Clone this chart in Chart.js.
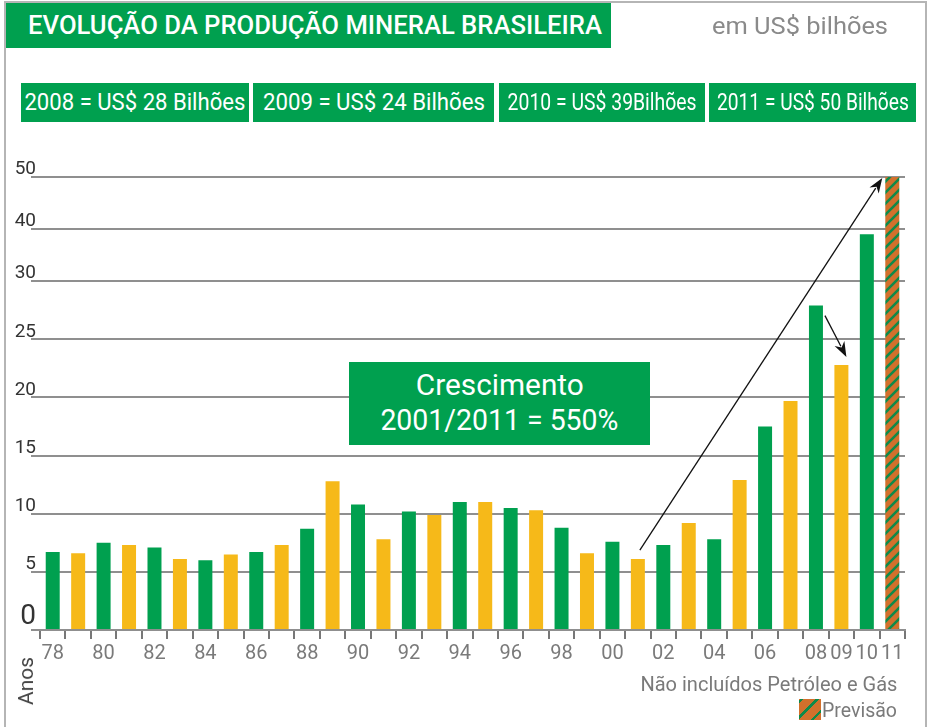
<!DOCTYPE html>
<html lang="pt">
<head>
<meta charset="UTF-8">
<title>Evolução da Produção Mineral Brasileira</title>
<script src="https://cdn.jsdelivr.net/npm/chart.js"></script>
<style>
    body { margin: 0; background: #ffffff; font-family: Roboto, Arial, sans-serif; }
    #page { position: relative; width: 928px; height: 727px; overflow: hidden; }
    .frame { position: absolute; left: 4px; top: 1px; width: 919px; height: 760px; border: 2px solid #b5b5b5; border-bottom: none; }
    #chartBox { position: absolute; left: 0; top: 0; width: 928px; height: 727px; }
    .green { position: absolute; background: #00a04f; color: #ffffff; white-space: nowrap; overflow: visible; }
    .fit { display: inline-block; white-space: nowrap; }
    .title { left: 6px; top: 3px; width: 605px; height: 45px; line-height: 45px; font-size: 25px; font-weight: 500; }
    .title .fit { position: absolute; left: 22px; transform-origin: left center; }
    .unit { position: absolute; left: 712px; top: 12px; font-size: 24px; color: #8a8a8a; }
    .unit .fit { transform-origin: left center; }
    .box { top: 83px; height: 39px; font-size: 23px; display: flex; justify-content: center; align-items: center; }
    .box .fit { transform-origin: center center; flex: none; }
    .callout { left: 349px; top: 362px; width: 301px; height: 83px; font-size: 29px; line-height: 35px;
        display: flex; flex-direction: column; justify-content: center; align-items: center; padding-bottom: 2px; box-sizing: border-box; }
    .callout .fit { transform-origin: center center; flex: none; }
    .anos { position: absolute; left: 26px; top: 681px; font-size: 21px; color: #444; transform: translate(-50%, -50%) rotate(-90deg); }
    .note { position: absolute; right: 31px; top: 672px; font-size: 21px; color: #7a7a7a; }
    .note .fit { transform-origin: right center; }
    .legend { position: absolute; left: 799px; top: 699px; height: 22px; font-size: 21px; color: #7a7a7a; line-height: 22px; white-space: nowrap; }
    .swatch { display: inline-block; width: 22px; height: 21px; vertical-align: top;
        background: repeating-linear-gradient(-45deg, #d2702c 0 5px, #0f8a4a 5px 7.5px, #d2702c 7.5px 11px); }
    .legend .fit { transform-origin: left center; margin-left: 1px; }
</style>
</head>
<body>
<div id="page">
    <div class="frame"></div>
    <div id="chartBox"><canvas id="mineralChart"></canvas></div>

    <div class="green title"><span class="fit" data-w="574">EVOLUÇÃO DA PRODUÇÃO MINERAL BRASILEIRA</span></div>
    <div class="unit"><span class="fit" data-w="176">em US$ bilhões</span></div>

    <div class="green box" style="left:21px;width:228px"><span class="fit" data-w="221">2008 = US$ 28 Bilhões</span></div>
    <div class="green box" style="left:253px;width:241px"><span class="fit" data-w="222">2009 = US$ 24 Bilhões</span></div>
    <div class="green box" style="left:499px;width:206px"><span class="fit" data-w="189">2010 = US$ 39Bilhões</span></div>
    <div class="green box" style="left:709px;width:207px"><span class="fit" data-w="192">2011 = US$ 50 Bilhões</span></div>

    <div class="green callout">
        <span class="fit" data-w="168">Crescimento</span>
        <span class="fit" data-w="238">2001/2011 = 550%</span>
    </div>

    <div class="anos">Anos</div>
    <div class="note"><span class="fit" data-w="257">Não incluídos Petróleo e Gás</span></div>
    <div class="legend"><span class="swatch"></span><span class="fit" data-w="75">Previsão</span></div>
</div>

<script>
    // Anos (categorias)
    const years = ['78', '79', '80', '81', '82', '83', '84', '85', '86', '87', '88', '89',
                   '90', '91', '92', '93', '94', '95', '96', '97', '98', '99',
                   '00', '01', '02', '03', '04', '05', '06', '07', '08', '09', '10', '11'];
    // Rótulos visíveis no eixo X
    const shownYears = ['78', '80', '82', '84', '86', '88', '90', '92', '94', '96', '98',
                        '00', '02', '04', '06', '08', '09', '10', '11'];
    // Produção mineral em US$ bilhões
    const values = [6.7, 6.6, 7.5, 7.3, 7.1, 6.1, 6.0, 6.5, 6.7, 7.3, 8.7, 12.8,
                    10.8, 7.8, 10.2, 9.9, 11.0, 11.0, 10.5, 10.3, 8.8, 6.6,
                    7.6, 6.1, 7.3, 9.2, 7.8, 12.9, 17.5, 19.7, 27.9, 22.8, 39, 50];
    // Marcas do eixo Y (escala comprimida acima de 30)
    const yTicks = [0, 5, 10, 15, 20, 25, 30, 40, 50];
    const forecastYear = '11';

    // o eixo original é linear até 30 e comprimido depois
    function toAxis(v) {
        return v <= 30 ? v : 30 + (v - 30) * 0.448;
    }

    // ajusta a largura dos textos HTML
    document.querySelectorAll('.fit').forEach(el => {
        const w = el.getBoundingClientRect().width;
        const target = +el.dataset.w;
        if (w > 0 && target) el.style.transform = 'scaleX(' + (target / w) + ')';
    });

    function makeHatch() {
        const c = document.createElement('canvas');
        c.width = 11; c.height = 11;
        const g = c.getContext('2d');
        g.fillStyle = '#d2702c';
        g.fillRect(0, 0, 11, 11);
        g.strokeStyle = '#0f8a4a';
        g.lineWidth = 2.6;
        g.beginPath();
        g.moveTo(-2, 13); g.lineTo(13, -2);
        g.moveTo(-2, 2); g.lineTo(2, -2);
        g.moveTo(9, 13); g.lineTo(13, 9);
        g.stroke();
        return g.createPattern(c, 'repeat');
    }
    const hatch = makeHatch();

    // flechas do gráfico
    const arrowPlugin = {
        id: 'arrows',
        afterDatasetsDraw(chart) {
            const { ctx, scales: { x, y } } = chart;
            function arrow(x1, y1, x2, y2) {
                const a = Math.atan2(y2 - y1, x2 - x1);
                const len = 15, half = 5.5;
                ctx.save();
                ctx.strokeStyle = '#111';
                ctx.fillStyle = '#111';
                ctx.lineWidth = 1.3;
                ctx.beginPath();
                ctx.moveTo(x1, y1);
                ctx.lineTo(x2 - Math.cos(a) * len * 0.8, y2 - Math.sin(a) * len * 0.8);
                ctx.stroke();
                ctx.beginPath();
                ctx.moveTo(x2, y2);
                ctx.lineTo(x2 - Math.cos(a) * len - Math.sin(a) * half, y2 - Math.sin(a) * len + Math.cos(a) * half);
                ctx.lineTo(x2 - Math.cos(a) * len * 0.7, y2 - Math.sin(a) * len * 0.7);
                ctx.lineTo(x2 - Math.cos(a) * len + Math.sin(a) * half, y2 - Math.sin(a) * len - Math.cos(a) * half);
                ctx.closePath();
                ctx.fill();
                ctx.restore();
            }
            const i01 = years.indexOf('01'), i08 = years.indexOf('08');
            const i09 = years.indexOf('09'), i11 = years.indexOf('11');
            arrow(x.getPixelForValue(i01) + 2, y.getPixelForValue(toAxis(values[i01])) - 9,
                  x.getPixelForValue(i11) - 10, y.getPixelForValue(toAxis(values[i11])) + 1);
            arrow(x.getPixelForValue(i08) + 9, y.getPixelForValue(toAxis(values[i08])) + 10,
                  x.getPixelForValue(i09) + 5, y.getPixelForValue(toAxis(values[i09])) - 8);
        }
    };

    const ctx = document.getElementById('mineralChart').getContext('2d');
    new Chart(ctx, {
        type: 'bar',
        data: {
            labels: years,
            datasets: [{
                label: 'Produção mineral (US$ bilhões)',
                data: values.map(toAxis),
                backgroundColor: c => years[c.dataIndex] === forecastYear ? hatch
                    : (c.dataIndex % 2 === 0 ? '#00a04f' : '#f6b919'),
                categoryPercentage: 1,
                barPercentage: 0.55
            }]
        },
        options: {
            responsive: true,
            maintainAspectRatio: false,
            animation: false,
            layout: { padding: { left: 15, top: 177, right: 23, bottom: 57 } },
            plugins: { legend: { display: false }, tooltip: { enabled: false } },
            scales: {
                x: {
                    type: 'category',
                    offset: true,
                    afterFit: s => { s.height = 40; },
                    grid: { offset: true, drawOnChartArea: false, drawTicks: true, tickLength: 9, color: '#777', lineWidth: 2 },
                    border: { display: true, color: '#8f8f8f', width: 2 },
                    ticks: {
                        autoSkip: false,
                        maxRotation: 0,
                        padding: 3,
                        color: '#7a7a7a',
                        font: { family: 'Roboto', size: 20 },
                        callback: (v, i) => shownYears.includes(years[i]) ? years[i] : ''
                    }
                },
                y: {
                    min: 0,
                    max: toAxis(50),
                    afterFit: s => { s.width = 25; },
                    afterBuildTicks: s => { s.ticks = yTicks.map(v => ({ value: toAxis(v) })); },
                    grid: { color: '#8f8f8f', lineWidth: 2, drawTicks: true, tickLength: 9 },
                    border: { display: false },
                    ticks: {
                        padding: -5,
                        labelOffset: -7.5,
                        color: '#333',
                        font: c => (c.tick && c.tick.value === 0)
                            ? { family: 'Roboto', size: 28, lineHeight: 0.4 }
                            : { family: 'Roboto', size: 19 },
                        callback: (v, i) => i === 0 ? ['0', ''] : String(yTicks[i])
                    }
                }
            }
        },
        plugins: [arrowPlugin]
    });
</script>
</body>
</html>
